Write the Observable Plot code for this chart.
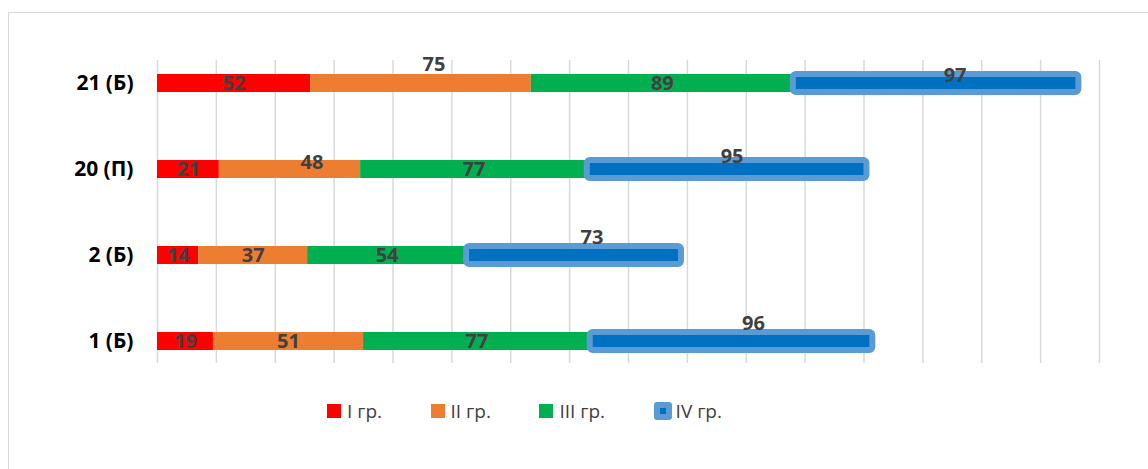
<!DOCTYPE html>
<html>
<head>
<meta charset="utf-8">
<script src="https://cdn.jsdelivr.net/npm/d3@7"></script>
<script src="https://cdn.jsdelivr.net/npm/@observablehq/plot@0.6"></script>
<style>
  html, body { margin: 0; padding: 0; background: #fff; }
  body { width: 1148px; height: 469px; position: relative; overflow: hidden; font-family: "Open Sans", sans-serif; }
  #frame { position: absolute; left: 8px; top: 12px; width: 1300px; height: 600px; border-top: 1px solid #d9d9d9; border-left: 1px solid #d9d9d9; }
  #chart { position: absolute; left: 0; top: 0; }
  #legend { position: absolute; left: 327px; top: 398px; display: flex; align-items: center; gap: 48.5px; font-size: 19px; color: #404040; }
  .item { display: flex; align-items: center; }
  .sw { width: 14px; height: 14px; margin-right: 6px; box-sizing: border-box; }
  .sw.blue { width: 18px; height: 18px; border: 6px solid #5B9BD5; border-radius: 3px; margin-right: 4px; }
</style>
</head>
<body>
<div id="frame"></div>
<div id="chart"></div>
<div id="legend"></div>
<script>
// ---- data ----
const categories = ["21 (Б)", "20 (П)", "2 (Б)", "1 (Б)"];
const groups = ["I гр.", "II гр.", "III гр.", "IV гр."];
const gr1 = [52, 21, 14, 19];
const gr2 = [75, 48, 37, 51];
const gr3 = [89, 77, 54, 77];
const gr4 = [97, 95, 73, 96];
const gridTicks = [0, 20, 40, 60, 80, 100, 120, 140, 160, 180, 200, 220, 240, 260, 280, 300, 320];
const colors = ["#FF0000", "#ED7D31", "#00B050", "#0070C0"];

// label nudges (layout only, mimicking the reference's moved labels)
const labelNudge = {
  "21 (Б)|II гр.": [13, -19],
  "21 (Б)|IV гр.": [19, -8],
  "20 (П)|II гр.": [22, -7],
  "20 (П)|IV гр.": [5, -13],
  "2 (Б)|IV гр.": [18, -18],
  "1 (Б)|IV гр.": [22, -17.5]
};

// ---- build stacked rows ----
const series = [gr1, gr2, gr3, gr4];
const rows = [];
categories.forEach((cat, i) => {
  let acc = 0;
  series.forEach((s, g) => {
    const v = s[i];
    rows.push({cat, group: groups[g], value: v, x1: acc, x2: acc + v, mid: acc + v / 2});
    acc += v;
  });
});

const labelMarks = rows.map(d => {
  const n = labelNudge[d.cat + "|" + d.group] || [0, 0];
  return Plot.text([d], {
    x: "mid", y: "cat", text: d => String(d.value),
    dx: n[0], dy: n[1],
    fill: "#404040", fontSize: 20, fontWeight: "bold"
  });
});

const chart = Plot.plot({
  width: 1148,
  height: 380,
  marginLeft: 157,
  marginRight: 49,
  marginTop: 60,
  marginBottom: 17,
  style: {fontFamily: "Open Sans, sans-serif", background: "transparent"},
  x: {domain: [0, 320], axis: null},
  y: {domain: categories, paddingInner: 0.793, paddingOuter: 0.138, align: 0.5, label: null, axis: null},
  color: {domain: groups, range: colors},
  marks: [
    Plot.ruleX(gridTicks, {x: d => d, stroke: "#d9d9d9", strokeWidth: 1.5}),
    Plot.barX(rows.filter(d => d.group !== "IV гр."), {x1: "x1", x2: "x2", y: "cat", fill: "group"}),
    Plot.barX(rows.filter(d => d.group === "IV гр."), {x1: "x1", x2: "x2", y: "cat", fill: "group", stroke: "#5B9BD5", strokeWidth: 6, rx: 3}),
    Plot.axisY({tickSize: 0, tickPadding: 24, fontSize: 21, fontWeight: "bold", fill: "#000", label: null}),
    ...labelMarks
  ]
});
document.getElementById("chart").appendChild(chart);

// ---- legend ----
const legend = document.getElementById("legend");
groups.forEach((g, i) => {
  const item = document.createElement("div");
  item.className = "item";
  const sw = document.createElement("span");
  sw.className = "sw" + (i === 3 ? " blue" : "");
  sw.style.background = colors[i];
  const tx = document.createElement("span");
  tx.textContent = g;
  item.appendChild(sw);
  item.appendChild(tx);
  legend.appendChild(item);
});
</script>
</body>
</html>
